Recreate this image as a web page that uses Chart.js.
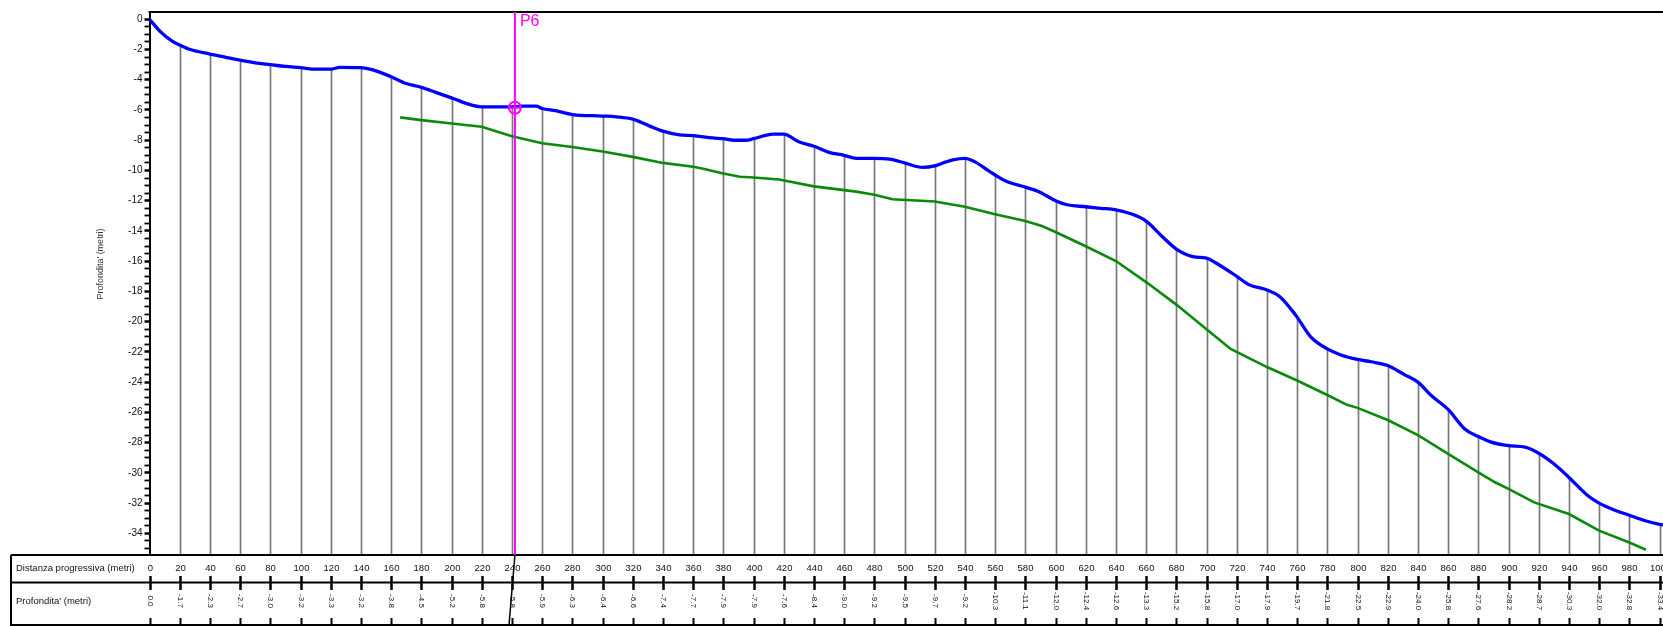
<!DOCTYPE html>
<html>
<head>
<meta charset="utf-8">
<script src="https://cdn.jsdelivr.net/npm/chart.js@4.4.1/dist/chart.umd.min.js"></script>
<style>
  html, body { margin: 0; padding: 0; background: #fff; }
  #wrap { width: 1663px; height: 626px; position: relative; }
</style>
</head>
<body>
<div id="wrap"><canvas id="profilo"></canvas></div>
<script>
// ======================
// PROFILO BATIMETRICO
// ======================

// stazioni della tabella (distanza progressiva, metri)
const stazioni = [0, 20, 40, 60, 80, 100, 120, 140, 160, 180, 200, 220, 240, 260, 280, 300, 320, 340, 360, 380,
  400, 420, 440, 460, 480, 500, 520, 540, 560, 580, 600, 620, 640, 660, 680, 700, 720, 740, 760, 780,
  800, 820, 840, 860, 880, 900, 920, 940, 960, 980, 1000];

// profondita' alle stazioni (riga della tabella)
const profStazioni = [0.0, -1.7, -2.3, -2.7, -3.0, -3.2, -3.3, -3.2, -3.8, -4.5, -5.2, -5.8, -5.8, -5.9, -6.3, -6.4, -6.6, -7.4, -7.7, -7.9,
  -7.9, -7.6, -8.4, -9.0, -9.2, -9.5, -9.7, -9.2, -10.3, -11.1, -12.0, -12.4, -12.6, -13.3, -15.2, -15.8, -17.0, -17.9, -19.7, -21.8,
  -22.5, -22.9, -24.0, -25.8, -27.6, -28.2, -28.7, -30.3, -32.0, -32.8, -33.4];

// linea blu (fondale)
const fondoDist = [0, 7, 15, 20, 27, 40, 50, 60, 70, 80, 90, 100, 110, 120, 126, 140, 148, 160, 170, 180,
  190, 200, 214, 220, 240, 247, 256, 260, 269, 280, 300, 309, 320, 331, 340, 351, 360, 373, 380, 387,
  395, 400, 413, 420, 430, 440, 450, 460, 468, 480, 490, 500, 512, 520, 527, 532, 540, 547, 556, 560,
  567, 580, 589, 600, 607, 620, 630, 640, 651, 660, 671, 680, 691, 700, 706, 720, 728, 740, 748, 757,
  760, 769, 780, 789, 800, 809, 820, 831, 840, 849, 860, 871, 880, 888, 900, 911, 920, 930, 940, 953,
  960, 970, 980, 990, 1000, 1003];
const fondoProf = [0, -0.8, -1.45, -1.7, -2.0, -2.3, -2.5, -2.7, -2.88, -3.0, -3.12, -3.2, -3.3, -3.3, -3.18, -3.2, -3.35, -3.8, -4.25, -4.5,
  -4.85, -5.2, -5.7, -5.8, -5.8, -5.75, -5.75, -5.9, -6.05, -6.3, -6.4, -6.45, -6.6, -7.05, -7.4, -7.65, -7.7, -7.85, -7.9, -8.0,
  -8.0, -7.9, -7.6, -7.6, -8.1, -8.4, -8.8, -9.0, -9.2, -9.2, -9.25, -9.5, -9.8, -9.7, -9.45, -9.3, -9.2, -9.45, -10.05, -10.3,
  -10.7, -11.1, -11.4, -12.0, -12.25, -12.4, -12.5, -12.6, -12.9, -13.35, -14.4, -15.2, -15.7, -15.8, -16.1, -17.0, -17.55, -17.9, -18.3, -19.3,
  -19.7, -21.0, -21.8, -22.2, -22.5, -22.65, -22.9, -23.5, -24.0, -24.9, -25.8, -27.1, -27.6, -27.95, -28.2, -28.3, -28.7, -29.4, -30.3, -31.55,
  -32.0, -32.45, -32.8, -33.15, -33.4, -33.45];

// linea verde
const verdeDist = [166, 180, 200, 220, 240, 260, 280, 300, 320, 340, 360, 366, 380, 391, 400, 417, 440, 460, 468, 480,
  492, 520, 540, 560, 580, 591, 600, 620, 640, 660, 680, 700, 716, 740, 760, 780, 793, 800, 820, 840,
  860, 880, 891, 900, 917, 940, 960, 980, 991];
const verdeProf = [-6.49, -6.67, -6.89, -7.11, -7.73, -8.2, -8.45, -8.75, -9.1, -9.5, -9.75, -9.87, -10.2, -10.42, -10.47, -10.6, -11.05, -11.3, -11.4, -11.6,
  -11.9, -12.05, -12.4, -12.89, -13.34, -13.67, -14.07, -15.01, -15.99, -17.38, -18.87, -20.5, -21.8, -23.0, -23.89, -24.85, -25.5, -25.7, -26.5, -27.5,
  -28.74, -29.96, -30.62, -31.06, -31.95, -32.72, -33.82, -34.6, -35.08];

// etichette asse profondita'
const yEtichette = [0, -2, -4, -6, -8, -10, -12, -14, -16, -18, -20, -22, -24, -26, -28, -30, -32, -34];

// punto P6
const p6Nome = "P6";
const p6Dist = 242;
const p6Prof = -5.85;

const FONT = '"Liberation Sans", Arial, sans-serif';

// tacche ogni 0.5 m sull'asse verticale
const yTacche = [];
for (let i = -70; i <= 0; i++) yTacche.push(i * 0.5);

const tabellaPlugin = {
  id: 'tabella',
  beforeDatasetsDraw(chart) {
    const { ctx, chartArea, scales: { x, y } } = chart;
    // linee verticali grigie dalle stazioni al fondo
    ctx.save();
    ctx.strokeStyle = '#7a7a7a';
    ctx.lineWidth = 1.7;
    stazioni.forEach((d, i) => {
      if (d === 0) return;
      const px = Math.round(x.getPixelForValue(d)) + 0.5;
      ctx.beginPath();
      ctx.moveTo(px, y.getPixelForValue(profStazioni[i]));
      ctx.lineTo(px, chartArea.bottom);
      ctx.stroke();
    });
    ctx.restore();
  },
  afterDraw(chart) {
    const { ctx, chartArea, width, height, scales: { x, y } } = chart;
    const top = chartArea.bottom;
    const mid = 582.5;
    const bot = height - 1;
    ctx.save();

    // bordo superiore
    ctx.strokeStyle = '#000';
    ctx.lineWidth = 2;
    ctx.beginPath();
    ctx.moveTo(chartArea.left - 1, chartArea.top);
    ctx.lineTo(width, chartArea.top);
    ctx.stroke();

    // titolo asse y
    ctx.fillStyle = '#333';
    ctx.font = '9px ' + FONT;
    ctx.textAlign = 'center';
    ctx.textBaseline = 'middle';
    ctx.save();
    ctx.translate(101, 264);
    ctx.rotate(-Math.PI / 2);
    ctx.fillText("Profondita' (metri)", 0, 0);
    ctx.restore();

    // griglia della tabella
    ctx.strokeStyle = '#000';
    ctx.lineWidth = 2;
    ctx.beginPath();
    ctx.moveTo(11, top); ctx.lineTo(width, top);
    ctx.moveTo(11, mid); ctx.lineTo(width, mid);
    ctx.moveTo(11, bot); ctx.lineTo(width, bot);
    ctx.moveTo(11, top); ctx.lineTo(11, height);
    ctx.stroke();

    ctx.fillStyle = '#111';
    ctx.textAlign = 'left';
    ctx.font = '9.5px ' + FONT;
    ctx.fillText('Distanza progressiva (metri)', 16, 568);
    ctx.fillText("Profondita' (metri)", 16, 601);

    stazioni.forEach((d, i) => {
      const px = Math.round(x.getPixelForValue(d)) + 0.5;
      ctx.lineWidth = 2.5;
      ctx.beginPath();
      ctx.moveTo(px, 576); ctx.lineTo(px, 590);
      ctx.stroke();
      ctx.lineWidth = 2;
      ctx.beginPath();
      ctx.moveTo(px, 618); ctx.lineTo(px, height);
      ctx.stroke();

      ctx.textAlign = 'center';
      ctx.font = '9.5px ' + FONT;
      ctx.fillText(String(d), px, 568);

      ctx.save();
      ctx.translate(px, 601);
      ctx.rotate(Math.PI / 2);
      ctx.font = '8px ' + FONT;
      ctx.fillText(profStazioni[i].toFixed(1), 0, 0);
      ctx.restore();
    });

    // marcatore P6
    const mx = x.getPixelForValue(p6Dist);
    const my = y.getPixelForValue(p6Prof);
    ctx.strokeStyle = '#FF00FF';
    ctx.lineWidth = 2;
    ctx.beginPath();
    ctx.moveTo(mx, chartArea.top);
    ctx.lineTo(mx, top);
    ctx.stroke();
    ctx.beginPath();
    ctx.arc(mx, my, 6, 0, Math.PI * 2);
    ctx.moveTo(mx - 6, my);
    ctx.lineTo(mx + 6, my);
    ctx.stroke();
    ctx.fillStyle = '#FF00FF';
    ctx.font = '16px ' + FONT;
    ctx.textAlign = 'left';
    ctx.fillText(p6Nome, mx + 5, 22);

    ctx.strokeStyle = '#000';
    ctx.lineWidth = 1.5;
    ctx.beginPath();
    ctx.moveTo(mx, top);
    ctx.lineTo(mx - 6, height);
    ctx.stroke();

    ctx.restore();
  }
};

const ctx = document.getElementById('profilo').getContext('2d');

new Chart(ctx, {
  type: 'line',
  data: {
    datasets: [
      {
        label: 'Fondale',
        data: fondoDist.map((d, i) => ({ x: d, y: fondoProf[i] })),
        borderColor: '#0000FF',
        borderWidth: 3.3,
        pointRadius: 0,
        cubicInterpolationMode: 'monotone'
      },
      {
        label: 'Verde',
        data: verdeDist.map((d, i) => ({ x: d, y: verdeProf[i] })),
        borderColor: '#0A8A0A',
        borderWidth: 2.6,
        pointRadius: 0,
        tension: 0
      }
    ]
  },
  options: {
    responsive: true,
    maintainAspectRatio: false,
    animation: false,
    layout: { padding: { top: 12, right: 0, bottom: 71, left: 0 } },
    plugins: {
      legend: { display: false },
      tooltip: { enabled: false }
    },
    scales: {
      x: { type: 'linear', min: 0, max: 1002.3, display: false },
      y: {
        type: 'linear',
        min: -35.43,
        max: 0.48,
        afterFit(scale) { scale.width = 149.5; },
        afterBuildTicks(scale) { scale.ticks = yTacche.map(v => ({ value: v })); },
        ticks: {
          autoSkip: false,
          padding: 2,
          color: '#111',
          font: { size: 10, family: FONT },
          callback: v => yEtichette.includes(v) ? String(v) : ''
        },
        grid: {
          drawOnChartArea: false,
          tickLength: 5,
          tickColor: '#000',
          tickWidth: c => (yEtichette.includes(c.tick.value) ? 2.5 : 1.8)
        },
        border: { color: '#000', width: 2 }
      }
    }
  },
  plugins: [tabellaPlugin]
});
</script>
</body>
</html>
